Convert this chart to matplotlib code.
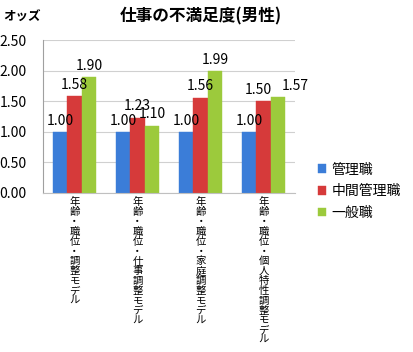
import numpy as np
import matplotlib
matplotlib.use("Agg")
import matplotlib.pyplot as plt

plt.rcParams['font.family'] = ['Noto Sans CJK JP', 'DejaVu Sans']

categories = ["年齢・職位・調整モデル", "年齢・職位・仕事調整モデル",
              "年齢・職位・家庭調整モデル", "年齢・職位・個人特性調整モデル"]
series_names = ["管理職", "中間管理職", "一般職"]
kanri = [1.00, 1.00, 1.00, 1.00]
chukan = [1.58, 1.23, 1.56, 1.50]
ippan = [1.90, 1.10, 1.99, 1.57]
colors = ["#3b7dd8", "#d63a3a", "#9cca3c"]

# label nudges (series index, category index) -> x shift in category units
nudge = {(1, 3): -0.08, (2, 3): 0.27}

fig = plt.figure(figsize=(4.14, 3.52), dpi=100)
ax = fig.add_axes([0.104, 0.452, 0.609, 0.434])

x = np.arange(len(categories))
w = 0.23
for i, (vals, name, c) in enumerate(zip([kanri, chukan, ippan], series_names, colors)):
    pos = x + (i - 1) * w
    ax.bar(pos, vals, w, color=c, label=name, edgecolor=c, linewidth=0.3)
    for j, (p, v) in enumerate(zip(pos, vals)):
        ax.text(p + nudge.get((i, j), 0), v + 0.07, "{:.2f}".format(v),
                ha="center", va="bottom", fontsize=10)

ax.set_xlim(-0.5, 3.5)
ax.set_ylim(0, 2.5)
ax.set_yticks(np.arange(0, 2.51, 0.5))
ax.set_yticklabels(["{:.2f}".format(t) for t in np.arange(0, 2.51, 0.5)], fontsize=10)
ax.yaxis.grid(True, color="#d0d0d0", linewidth=0.8)
ax.set_axisbelow(True)
for s in ["top", "right"]:
    ax.spines[s].set_visible(False)
ax.spines["left"].set_color("#a0a0a0")
ax.spines["bottom"].set_color("#c0c0c0")
ax.tick_params(axis="y", length=0, pad=12)
ax.set_xticks(x)
ax.set_xticklabels([])
ax.tick_params(axis="x", length=0)

for xi, cat in zip(x, categories):
    ax.text(xi, -0.07, "\n".join(cat), ha="center", va="top", fontsize=7.5,
            linespacing=0.98)

fig.text(0.485, 0.952, "仕事の不満足度(男性)", ha="center", va="center", fontsize=12, fontweight="bold")
fig.text(0.008, 0.95, "オッズ", ha="left", va="center", fontsize=9, fontweight="bold")

ax.legend(loc="upper left", bbox_to_anchor=(1.04, 0.28), frameon=False, fontsize=10,
          handlelength=0.6, handleheight=0.6, handletextpad=0.4, labelspacing=0.55)

fig.savefig("out.png", dpi=100)
